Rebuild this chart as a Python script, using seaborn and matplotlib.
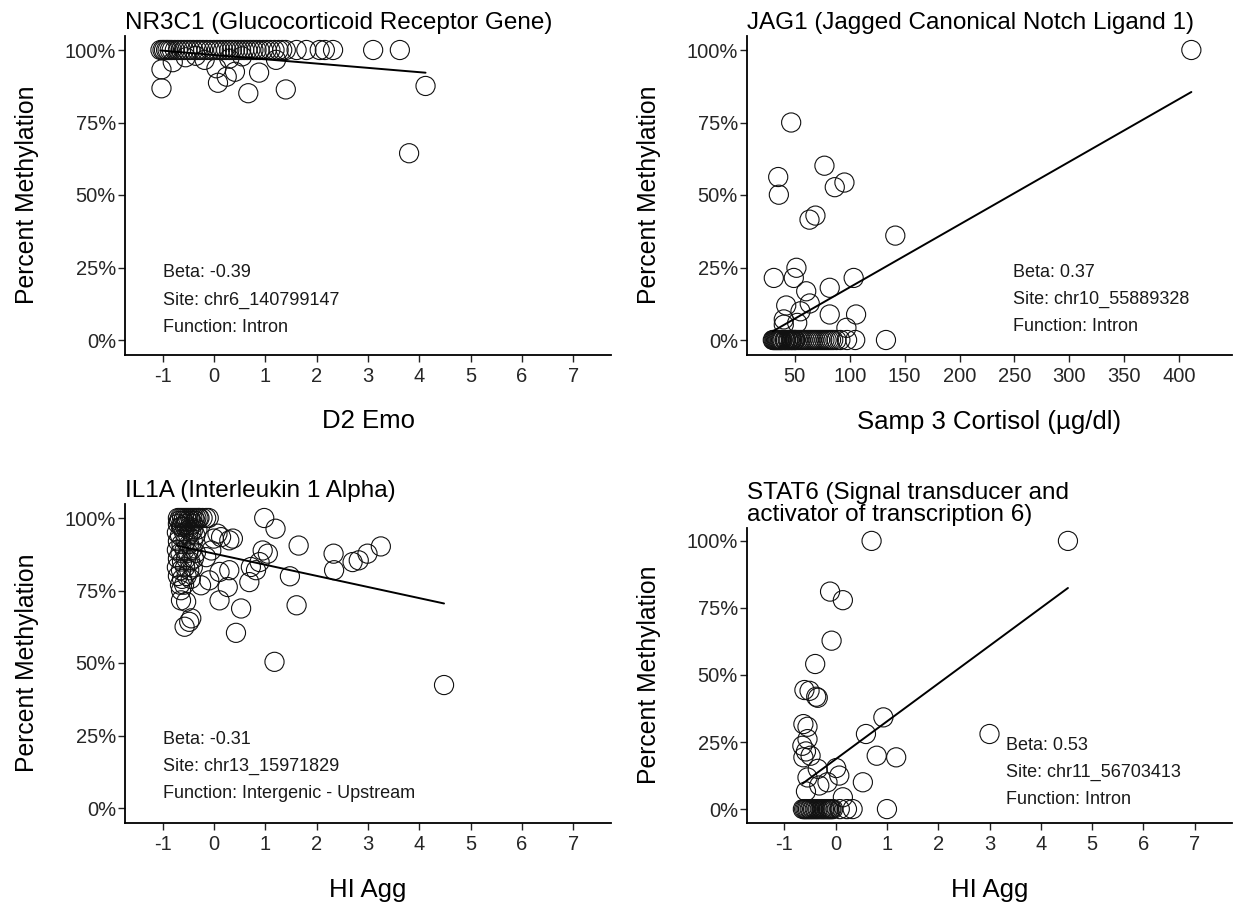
import numpy as np
import pandas as pd
import matplotlib
matplotlib.use("Agg")
import matplotlib.pyplot as plt
import seaborn as sns
from matplotlib.ticker import PercentFormatter

# ---------------- data ----------------
# Panel 1: NR3C1 ~ D2 Emo
nr3c1_x = [-1.04, -1.00, -0.97, -0.93, -0.90, -0.86, -0.82, -0.76, -0.70, -0.64,
           -0.58, -0.52, -0.46, -0.40, -0.33, -0.27, -0.21, -0.14, -0.07, 0.00,
           0.06, 0.12, 0.18, 0.24, 0.30, 0.35, 0.41, 0.47, 0.53, 0.59,
           0.65, 0.71, 0.77, 0.83, 0.89, 0.96, 1.03, 1.10, 1.18, 1.26,
           1.33, 1.40, 1.61, 1.80, 2.06, 2.16, 2.32, 3.10, 3.62,
           -1.02, -1.02, -0.80, -0.18, 0.05, 0.08, 0.25, 0.41, 0.67, 0.88,
           1.21, 1.40, 4.12, 3.80, -0.55, 0.30, 0.55, -0.35]
nr3c1_y = [100, 100, 100, 100, 100, 100, 100, 100, 100, 100,
           100, 100, 100, 100, 100, 100, 100, 100, 100, 100,
           100, 100, 100, 100, 100, 100, 100, 100, 100, 100,
           100, 100, 100, 100, 100, 100, 100, 100, 100, 100,
           100, 100, 100, 100, 100, 100, 100, 100, 100,
           93.3, 86.8, 95.8, 96.6, 93.7, 88.7, 90.8, 92.5, 85.1, 92.2,
           96.6, 86.4, 87.6, 64.4, 97.5, 97.0, 97.8, 98.0]

# Panel 2: JAG1 ~ Samp 3 Cortisol
jag1_x = [46.7, 34.9, 35.5, 77.0, 86.4, 95.2, 63.4, 68.8, 141.5, 30.9,
          49.1, 51.5, 60.4, 81.8, 103.6, 42.2, 63.6, 55.2, 40.0, 52.2,
          81.8, 105.8, 97.0, 40.0, 411.0,
          30.0, 31.5, 33.0, 34.5, 36.0, 37.5, 39.0, 40.5, 42.0, 43.5,
          45.0, 46.5, 48.0, 49.5, 51.0, 53.0, 55.0, 57.0, 59.0, 61.0,
          63.0, 65.0, 67.0, 69.0, 71.0, 73.0, 75.0, 77.0, 79.0, 81.0,
          83.0, 85.0, 88.0, 91.5, 97.6, 105.0, 133.0,
          30.7, 32.2, 33.7, 35.2, 36.7, 38.2, 41.2, 44.2, 47.2, 50.2]
jag1_y = [75.0, 56.2, 50.1, 60.1, 52.7, 54.3, 41.5, 42.9, 36.0, 21.4,
          21.4, 24.9, 16.8, 18.0, 21.4, 11.9, 12.6, 9.9, 7.1, 5.9,
          8.8, 8.8, 4.2, 5.3, 100.0,
          0, 0, 0, 0, 0, 0, 0, 0, 0, 0,
          0, 0, 0, 0, 0, 0, 0, 0, 0, 0,
          0, 0, 0, 0, 0, 0, 0, 0, 0, 0,
          0, 0, 0, 0, 0, 0, 0,
          0, 0, 0, 0, 0, 0, 0, 0, 0, 0]

# Panel 3: IL1A ~ HI Agg
il1a_x = [-0.70, -0.66, -0.62, -0.58, -0.54, -0.50, -0.46, -0.42, -0.38, -0.34,
          -0.28, -0.22, -0.70, -0.62, -0.55, -0.47, -0.40, -0.72, -0.66, -0.58,
          -0.50, -0.44, -0.36, -0.70, -0.63, -0.55, -0.48, -0.41, -0.72, -0.65,
          -0.57, -0.50, -0.43, -0.35, -0.70, -0.62, -0.54, -0.46, -0.39, -0.72,
          -0.64, -0.56, -0.48, -0.41, -0.70, -0.62, -0.53, -0.45, -0.66, -0.58,
          -0.68, -0.60, -0.52, -0.44, -0.36, -0.64, -0.56, -0.48, -0.40, -0.32,
          -0.15, 0.98, 1.20, 1.65, 2.33, 2.34, 3.25, 2.99, 2.82, 2.70,
          1.48, 1.61, 1.18, 4.48, 0.37, 0.14, 0.95, 1.05, 0.89, 0.72,
          0.82, 0.30, 0.11, -0.09, -0.25, 0.27, 0.69, 0.11, 0.53, 0.43,
          -0.64, -0.64, -0.54, -0.44, -0.57, -0.48, 0.00, 0.07, 0.30, -0.05,
          -0.15, -0.10, -0.30]
il1a_y = [100, 100, 100, 100, 100, 100, 100, 100, 100, 100,
          100, 100, 98, 97, 98, 97, 98, 95, 94, 95,
          94, 95, 94, 92, 91, 92, 91, 92, 89, 88,
          89, 88, 89, 88, 86, 85, 86, 85, 86, 83,
          82, 83, 82, 83, 80, 79, 80, 79, 77, 77,
          99, 99, 99, 99, 99, 97, 97, 96, 96, 96,
          100, 100, 96.3, 90.5, 87.7, 82.0, 90.2, 87.7, 85.4, 84.8,
          79.9, 69.9, 50.4, 42.4, 92.9, 93.4, 88.8, 87.7, 84.8, 83.1,
          82.0, 82.0, 81.4, 78.5, 76.8, 76.2, 77.9, 71.6, 68.8, 60.4,
          75.1, 71.6, 71.1, 65.4, 62.5, 64.2, 92.9, 94.6, 92.3, 88.8,
          86.5, 100, 100]

# Panel 4: STAT6 ~ HI Agg  (two overlapping observations at the top right)
stat6_x = [0.70, 4.53, 4.53, -0.11, 0.14, -0.08, -0.40, -0.61, -0.51, -0.38,
           -0.35, -0.63, -0.55, -0.55, -0.65, -0.58, -0.63, -0.49, 0.93, 0.59,
           0.80, 1.18, 0.01, 0.07, -0.35, -0.55, -0.32, -0.16, 0.53, -0.58,
           0.14, 3.00,
           -0.64, -0.615, -0.59, -0.565, -0.54, -0.51, -0.49, -0.46, -0.44, -0.41,
           -0.39, -0.36, -0.34, -0.31, -0.28, -0.26, -0.23, -0.21, -0.18, -0.15,
           -0.13, -0.10, -0.08, -0.05, 0.08, 0.22, 0.33, 1.00]
stat6_y = [100, 100, 100, 81.1, 77.9, 62.8, 54.1, 44.4, 44.1, 41.9,
           41.5, 31.7, 30.7, 26.1, 23.6, 21.5, 19.3, 19.9, 34.2, 28.0,
           19.9, 19.3, 15.3, 12.5, 15.0, 11.8, 8.8, 10.0, 10.0, 6.6,
           4.4, 28.0,
           0, 0, 0, 0, 0, 0, 0, 0, 0, 0,
           0, 0, 0, 0, 0, 0, 0, 0, 0, 0,
           0, 0, 0, 0, 0, 0, 0, 0]

titles = ["NR3C1 (Glucocorticoid Receptor Gene)",
          "JAG1 (Jagged Canonical Notch Ligand 1)",
          "IL1A (Interleukin 1 Alpha)",
          "STAT6 (Signal transducer and\nactivator of transcription 6)"]
xlabels = ["D2 Emo", "Samp 3 Cortisol (\u00b5g/dl)", "HI Agg", "HI Agg"]
betas = ["Beta: -0.39", "Beta: 0.37", "Beta: -0.31", "Beta: 0.53"]
sites = ["Site: chr6_140799147", "Site: chr10_55889328",
         "Site: chr13_15971829", "Site: chr11_56703413"]
functions = ["Function: Intron", "Function: Intron",
             "Function: Intergenic - Upstream", "Function: Intron"]
hi_ticks = [-1, 0, 1, 2, 3, 4, 5, 6, 7]
cort_ticks = [50, 100, 150, 200, 250, 300, 350, 400]
pct_ticks = [0, 0.25, 0.5, 0.75, 1.0]

# ---------------- style ----------------
sns.set_theme(style="ticks")
plt.rcParams["font.family"] = ["Liberation Sans", "DejaVu Sans"]

W, H = 1235, 902
fig = plt.figure(figsize=(W / 100, H / 100), dpi=100)
fig.patch.set_facecolor("white")


def axes_px(l, t, r, b):
    return fig.add_axes([l / W, 1 - b / H, (r - l) / W, (b - t) / H])


panels = [
    dict(ax=axes_px(125, 35.5, 611, 354.5), x=nr3c1_x, y=nr3c1_y,
         xlim=(-1.73, 7.73), xticks=hi_ticks, ann=(-1.0, 0.029)),
    dict(ax=axes_px(747, 35.5, 1232, 354.5), x=jag1_x, y=jag1_y,
         xlim=(6.5, 448), xticks=cort_ticks, ann=(249, 0.03)),
    dict(ax=axes_px(125, 503.5, 611, 822.5), x=il1a_x, y=il1a_y,
         xlim=(-1.73, 7.73), xticks=hi_ticks, ann=(-1.0, 0.033)),
    dict(ax=axes_px(747, 527.5, 1232, 822.5), x=stat6_x, y=stat6_y,
         xlim=(-1.73, 7.73), xticks=hi_ticks, ann=(3.33, 0.019)),
]

for i, p in enumerate(panels):
    ax = p["ax"]
    df = pd.DataFrame({"x": p["x"], "y": np.array(p["y"]) / 100.0})
    # identical observations coincide on the plot; draw each position once
    sns.scatterplot(data=df.drop_duplicates(), x="x", y="y", ax=ax, s=190,
                    marker="o", facecolor="none", edgecolor="#111111",
                    linewidth=0.8, legend=False, zorder=2)
    ax.collections[-1].set_facecolor("none")
    sns.regplot(data=df, x="x", y="y", ax=ax, scatter=False, ci=None,
                truncate=True, line_kws=dict(color="black", lw=1.4, zorder=3))

    ax.set_xlim(*p["xlim"])
    ax.set_ylim(-0.05, 1.05)
    ax.set_xticks(p["xticks"])
    ax.set_xticklabels([str(t) for t in p["xticks"]])
    ax.set_yticks(pct_ticks)
    ax.yaxis.set_major_formatter(PercentFormatter(1.0, decimals=0))

    for s in ["top", "right"]:
        ax.spines[s].set_visible(False)
    for s in ["left", "bottom"]:
        ax.spines[s].set_color("black")
        ax.spines[s].set_linewidth(1.3)
    ax.tick_params(axis="both", length=5, width=1.0, color="#222222",
                   labelsize=14.5, labelcolor="#262626")
    ax.tick_params(axis="x", pad=4)
    ax.tick_params(axis="y", pad=1.5)
    ax.grid(False)

    ax.set_title(titles[i], loc="left", fontsize=17.5, pad=5,
                 color="black", linespacing=1.0)
    ax.set_xlabel(xlabels[i], fontsize=18.5, color="black")
    ax.set_ylabel("Percent Methylation", fontsize=17.8, color="black")
    hpx = ax.get_position().height * H
    wpx = ax.get_position().width * W
    ax.xaxis.set_label_coords(0.5, -55.0 / hpx)
    ax.yaxis.set_label_coords(-86.0 / wpx, 0.5)

    ax_x, ax_y = p["ann"]
    for k, txt in enumerate([functions[i], sites[i], betas[i]]):
        ax.annotate(txt, xy=(ax_x, ax_y), xytext=(0, k * 19.6),
                    textcoords="offset points", ha="left", va="baseline",
                    fontsize=13, color="#1a1a1a")

fig.savefig("out.png", dpi=100, facecolor="white")
